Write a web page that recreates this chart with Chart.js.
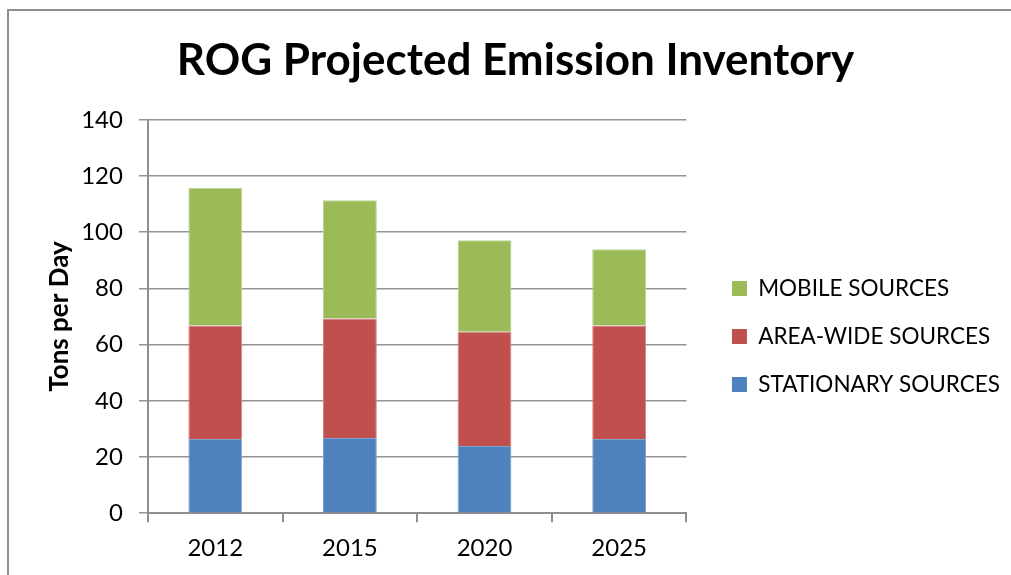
<!DOCTYPE html>
<html>
<head>
  <title>ROG Projected Emission Inventory</title>
  <meta charset="utf-8" />
  <script src="https://cdn.jsdelivr.net/npm/chart.js"></script>
  <style>
    body {
      margin: 0;
      padding: 0;
      background: #fff;
      font-family: Lato, sans-serif;
    }
    #wrap {
      position: relative;
      width: 1011px;
      height: 575px;
      overflow: hidden;
    }
    #frame {
      position: absolute;
      left: 7px;
      top: 9px;
      width: 1100px;
      height: 700px;
      border-left: 2px solid #8e8e8e;
      border-top: 2px solid #8e8e8e;
    }
    canvas {
      position: absolute;
      left: 0;
      top: 0;
    }
  </style>
</head>
<body>
  <div id="wrap">
    <div id="frame"></div>
    <canvas id="chart" width="1011" height="575"></canvas>
  </div>

  <script>
    const years = ['2012', '2015', '2020', '2025'];
    const stationary = [26.4, 26.8, 23.9, 26.4];
    const areaWide = [40.4, 42.5, 40.7, 40.4];
    const mobile = [48.9, 42.1, 32.5, 27.1];
    const yTicks = [0, 20, 40, 60, 80, 100, 120, 140];

    const FONT = 'Lato, sans-serif';
    const GAP = 20;       // extra space between plot and legend
    const LEGEND_DY = 49; // legend sits lower than centred

    // nudge the legend away from the plot and down a bit
    const legendGap = {
      id: 'legendGap',
      beforeLayout(chart) {
        const lg = chart.legend;
        if (lg && !lg._gapPatched) {
          const fit = lg.fit.bind(lg);
          lg.fit = function () { fit(); this.width += GAP; };
          lg._gapPatched = true;
        }
      },
      afterLayout(chart) {
        const lg = chart.legend;
        lg.left += GAP;
        lg.right += GAP;
        lg.top += LEGEND_DY;
        lg.bottom += LEGEND_DY;
      }
    };

    const ctx = document.getElementById('chart').getContext('2d');

    new Chart(ctx, {
      type: 'bar',
      data: {
        labels: years,
        datasets: [
          { label: 'STATIONARY SOURCES', data: stationary, backgroundColor: '#4F81BD', borderColor: '#7fa3d0' },
          { label: 'AREA-WIDE SOURCES', data: areaWide, backgroundColor: '#C0504D', borderColor: '#d68583' },
          { label: 'MOBILE SOURCES', data: mobile, backgroundColor: '#9BBB59', borderColor: '#bcd493' }
        ]
      },
      options: {
        responsive: false,
        animation: false,
        categoryPercentage: 1,
        barPercentage: 0.4,
        borderWidth: 1,
        layout: { padding: { left: 21, right: 1, bottom: 0 } },
        plugins: {
          title: {
            display: true,
            text: 'ROG Projected Emission Inventory',
            color: '#000',
            font: { family: FONT, size: 44, weight: 'bold' },
            padding: { top: 34, bottom: 33 }
          },
          legend: {
            position: 'right',
            reverse: true,
            maxWidth: 400,
            labels: {
              color: '#000',
              boxWidth: 15,
              boxHeight: 15,
              padding: 25.5,
              font: { family: FONT, size: 22.5 },
              generateLabels(chart) {
                const items = Chart.defaults.plugins.legend.labels.generateLabels(chart);
                items.forEach(it => { it.lineWidth = 0; });
                return items;
              }
            }
          },
          tooltip: { enabled: false }
        },
        scales: {
          x: {
            stacked: true,
            grid: {
              drawOnChartArea: false,
              offset: true,
              tickLength: 9,
              color: '#8e8e8e',
              lineWidth: 2
            },
            border: { color: '#8e8e8e', width: 2 },
            ticks: { color: '#000', padding: 12, font: { family: FONT, size: 24 } }
          },
          y: {
            stacked: true,
            min: 0,
            max: 140,
            afterBuildTicks(axis) {
              axis.ticks = yTicks.map(v => ({ value: v }));
            },
            grid: { color: '#949494', lineWidth: 1.5, tickLength: 9 },
            border: { color: '#8e8e8e', width: 2 },
            ticks: { color: '#000', padding: 16, font: { family: FONT, size: 24 } },
            title: {
              display: true,
              text: 'Tons per Day',
              color: '#000',
              font: { family: FONT, size: 26, weight: 'bold' },
              padding: { top: 23, bottom: -10 }
            }
          }
        }
      },
      plugins: [legendGap]
    });
  </script>
</body>
</html>
